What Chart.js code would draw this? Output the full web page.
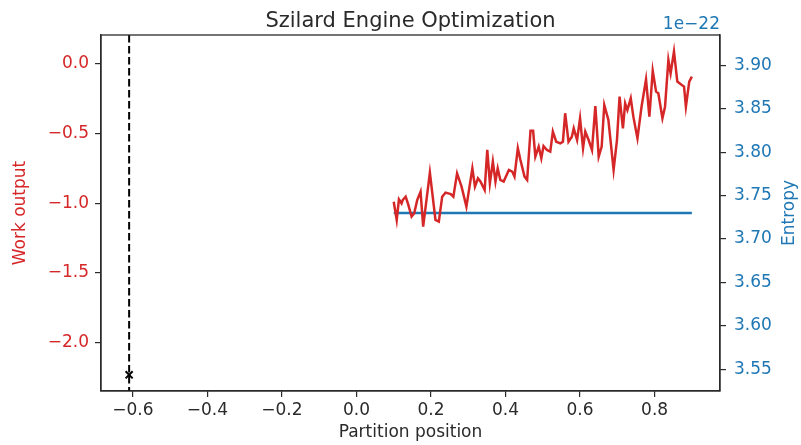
<!DOCTYPE html>
<html lang="en">
<head>
    <meta charset="UTF-8">
    <title>Szilard Engine Optimization</title>
    <script src="https://cdn.jsdelivr.net/npm/chart.js"></script>
    <style>
        body {
            margin: 0;
            padding: 0;
            background: #fff;
        }

        .chart-box {
            width: 801px;
            height: 445px;
        }
    </style>
</head>
<body>
    <div class="chart-box">
        <canvas id="szilard" width="801" height="445"></canvas>
    </div>

    <script>
        // partition position (x) and work output
        const partition = [
            0.100, 0.108, 0.114, 0.121, 0.124, 0.132, 0.138, 0.148, 0.155, 0.163,
            0.172, 0.179, 0.197, 0.212, 0.221, 0.230, 0.239, 0.253, 0.260, 0.270,
            0.282, 0.295, 0.311, 0.318, 0.326, 0.333, 0.344, 0.351, 0.358, 0.366,
            0.373, 0.379, 0.386, 0.395, 0.409, 0.418, 0.424, 0.433, 0.440, 0.451,
            0.458, 0.467, 0.474, 0.480, 0.489, 0.496, 0.502, 0.511, 0.520, 0.527,
            0.536, 0.547, 0.554, 0.560, 0.569, 0.578, 0.583, 0.592, 0.600, 0.608,
            0.614, 0.623, 0.632, 0.641, 0.650, 0.658, 0.665, 0.676, 0.690, 0.699,
            0.706, 0.715, 0.721, 0.727, 0.736, 0.743, 0.754, 0.765, 0.777, 0.786,
            0.795, 0.804, 0.810, 0.821, 0.828, 0.837, 0.843, 0.852, 0.861, 0.873,
            0.879, 0.884, 0.893, 0.900
        ];
        const work = [
            -0.989, -1.120, -0.972, -1.001, -0.977, -0.953, -1.001, -1.096, -1.072, -0.977,
            -0.917, -1.168, -0.781, -1.120, -1.132, -0.953, -0.924, -0.934, -0.953, -0.786,
            -0.881, -1.024, -0.750, -0.881, -0.821, -0.845, -0.905, -0.618, -0.857, -0.702,
            -0.845, -0.750, -0.833, -0.845, -0.761, -0.773, -0.809, -0.606, -0.690, -0.809,
            -0.833, -0.480, -0.480, -0.666, -0.594, -0.678, -0.590, -0.618, -0.630, -0.487,
            -0.559, -0.571, -0.559, -0.355, -0.559, -0.523, -0.463, -0.547, -0.391, -0.606,
            -0.487, -0.547, -0.618, -0.303, -0.666, -0.594, -0.296, -0.403, -0.761, -0.547,
            -0.236, -0.463, -0.284, -0.332, -0.248, -0.379, -0.535, -0.308, -0.112, -0.379,
            -0.050, -0.200, -0.212, -0.391, -0.308, 0.027, -0.069, 0.087, -0.128, -0.152,
            -0.164, -0.308, -0.128, -0.092
        ];

        // entropy (units of 1e-22), flat across the partition range
        const entropyX = [0.1, 0.9];
        const entropy = [3.73, 3.73];

        // best partition found
        const optimalPos = -0.61;
        const optimalWork = -2.23;

        const xTicks = [-0.6, -0.4, -0.2, 0.0, 0.2, 0.4, 0.6, 0.8];
        const workTicks = [-2.0, -1.5, -1.0, -0.5, 0.0];
        const entropyTicks = [3.55, 3.60, 3.65, 3.70, 3.75, 3.80, 3.85, 3.90];

        const RED = '#d62728';
        const BLUE = '#1f77b4';
        const INK = '#2a2a2a';
        const FONT = 'DejaVu Sans';
        const FS = 17;

        function minusFmt(v, d) {
            const s = Math.abs(v).toFixed(d);
            return v < -1e-9 ? '\u2212' + s : s;
        }

        // frame, axvline, title, offset text, right axis label
        const extras = {
            id: 'extras',
            beforeDatasetsDraw(chart) {
                const { ctx, chartArea, scales } = chart;
                const px = scales.x.getPixelForValue(optimalPos);
                ctx.save();
                ctx.strokeStyle = '#000';
                ctx.lineWidth = 2;
                ctx.setLineDash([7.5, 3.5]);
                ctx.beginPath();
                ctx.moveTo(px, chartArea.top);
                ctx.lineTo(px, chartArea.bottom);
                ctx.stroke();
                ctx.restore();
            },
            afterDraw(chart) {
                const { ctx, chartArea } = chart;
                ctx.save();
                ctx.strokeStyle = INK;
                ctx.lineWidth = 1.3;
                ctx.strokeRect(chartArea.left, chartArea.top,
                    chartArea.right - chartArea.left, chartArea.bottom - chartArea.top);

                ctx.fillStyle = INK;
                ctx.font = '21px "' + FONT + '"';
                ctx.textAlign = 'center';
                ctx.textBaseline = 'alphabetic';
                ctx.fillText('Szilard Engine Optimization', (chartArea.left + chartArea.right) / 2, 27);

                ctx.fillStyle = BLUE;
                ctx.font = FS + 'px "' + FONT + '"';
                ctx.textAlign = 'right';
                ctx.fillText('1e\u221222', chartArea.right, 29);

                ctx.translate(790, (chartArea.top + chartArea.bottom) / 2);
                ctx.rotate(-Math.PI / 2);
                ctx.textAlign = 'center';
                ctx.textBaseline = 'middle';
                ctx.fillText('Entropy', 0, 0);
                ctx.restore();
            }
        };

        const tickGrid = {
            drawOnChartArea: false,
            drawTicks: true,
            tickLength: 6,
            color: INK,
            lineWidth: 1.2
        };

        new Chart(document.getElementById('szilard'), {
            type: 'line',
            data: {
                datasets: [
                    {
                        label: 'Work output',
                        data: partition.map((x, i) => ({ x, y: work[i] })),
                        borderColor: RED,
                        borderWidth: 2.5,
                        pointRadius: 0,
                        tension: 0,
                        yAxisID: 'y'
                    },
                    {
                        label: 'Entropy',
                        data: entropyX.map((x, i) => ({ x, y: entropy[i] })),
                        borderColor: BLUE,
                        borderWidth: 2.6,
                        pointRadius: 0,
                        yAxisID: 'y1'
                    },
                    {
                        label: 'Optimum',
                        data: [{ x: optimalPos, y: optimalWork }],
                        showLine: false,
                        pointStyle: 'crossRot',
                        pointRadius: 5,
                        borderColor: '#000',
                        borderWidth: 2,
                        yAxisID: 'y'
                    }
                ]
            },
            options: {
                responsive: false,
                animation: false,
                devicePixelRatio: 1,
                layout: { padding: { top: 35, left: 0, right: 0, bottom: 0 } },
                plugins: {
                    legend: { display: false },
                    tooltip: { enabled: false }
                },
                scales: {
                    x: {
                        type: 'linear',
                        min: -0.6855,
                        max: 0.9755,
                        afterBuildTicks: s => { s.ticks = xTicks.map(v => ({ value: v })); },
                        afterFit: s => { s.height = 54; },
                        grid: tickGrid,
                        border: { color: INK, width: 1.3 },
                        ticks: {
                            color: INK,
                            font: { family: FONT, size: FS },
                            padding: 3,
                            maxRotation: 0,
                            callback: v => minusFmt(v, 1)
                        },
                        title: {
                            display: true,
                            text: 'Partition position',
                            color: INK,
                            font: { family: FONT, size: FS },
                            padding: { top: 0, bottom: 2 }
                        }
                    },
                    y: {
                        type: 'linear',
                        position: 'left',
                        min: -2.346,
                        max: 0.206,
                        afterBuildTicks: s => { s.ticks = workTicks.map(v => ({ value: v })); },
                        afterFit: s => { s.width = 101; },
                        grid: tickGrid,
                        border: { color: INK, width: 1.3 },
                        ticks: {
                            color: RED,
                            font: { family: FONT, size: FS },
                            padding: 6,
                            callback: v => minusFmt(v, 1)
                        },
                        title: {
                            display: true,
                            text: 'Work output',
                            color: RED,
                            font: { family: FONT, size: FS },
                            padding: { top: 10, bottom: 0 }
                        }
                    },
                    y1: {
                        type: 'linear',
                        position: 'right',
                        min: 3.5249,
                        max: 3.935,
                        afterBuildTicks: s => { s.ticks = entropyTicks.map(v => ({ value: v })); },
                        afterFit: s => { s.width = 81; },
                        grid: tickGrid,
                        border: { color: INK, width: 1.3 },
                        ticks: {
                            color: BLUE,
                            font: { family: FONT, size: FS },
                            padding: 8,
                            callback: v => v.toFixed(2)
                        }
                    }
                }
            },
            plugins: [extras]
        });
    </script>
</body>
</html>
